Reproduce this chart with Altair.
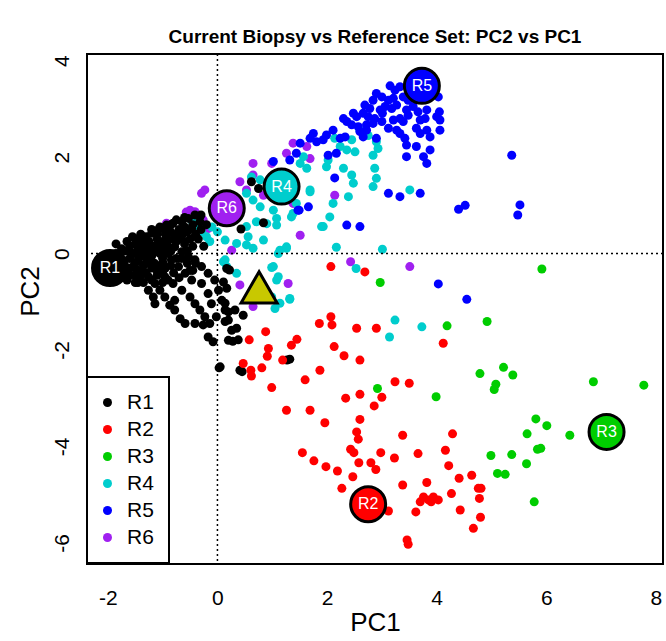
import altair as alt
import pandas as pd

groups = ["R1", "R2", "R3", "R4", "R5", "R6"]
colors = ["#000000", "#FF0000", "#00CD00", "#00CDCD", "#0000FF", "#A020F0"]

r1_x = [-1.32, -1.20, -1.08, -0.93, -0.81, -0.65, -0.53, -0.41, -0.32, -0.47, -0.62, -0.78, -0.90, -1.05, -1.20, -1.35,
        -1.44, -1.51, -1.38, -1.26, -1.14, -1.05, -0.96, -0.87, -0.78, -0.68, -0.59, -0.41, -0.26, -0.17, -0.08, 0.20,
        0.26, 0.20, 0.14, 0.08, 0.02, -0.05, -0.17, -0.29, -0.41, -0.53, -0.65, -0.78, -0.90, -0.99, -1.11, -0.96,
        -0.81, -0.65, -0.50, -0.41, -0.32, -0.23, -0.14, -0.47, -0.59, -0.71, -0.84, -0.29, -0.17, -0.11, -0.02, -1.17,
        -1.14, -1.26, -0.78,
        -1.80, -1.70, -1.60, -1.50, -1.40, -1.60, -1.70, -1.50, -1.30, -1.20, -1.10, -1.00, -1.20, -1.00, -1.30, -1.45,
        -1.10, -0.95, -0.85, -0.70, -0.60, -0.75, -0.60, -0.50, -0.40, -0.30, -0.20, -0.65, -0.55, -0.45, -0.85, -1.00,
        -1.35, -1.50, -1.65, -1.75, -1.85, -1.60, -1.40, -1.30,
        0.03, 0.45, 1.27, 1.32, 0.28, 0.62, 0.75, 0.84, 0.43, 0.17, 0.11, 0.22, 0.17, 0.14, 0.20, 0.32, 0.47, 0.14,
        0.35, 0.38, 0.41, 0.05,
        -1.75, -1.70, -1.65, -1.60, -1.55, -1.55, -1.50, -1.45, -1.45, -1.40, -1.40, -1.35, -1.35, -1.30, -1.30, -1.25,
        -1.25, -1.25, -1.20, -1.20, -1.15, -1.15, -1.10, -1.10, -1.05, -1.05, -1.05, -1.00, -1.00, -0.95, -0.95, -0.90,
        -0.90, -0.85, -0.85, -0.80, -0.80, -0.75, -0.75, -0.70, -0.70, -0.65, -0.60, -0.55, -0.55, -0.50, -0.45, -0.45,
        -0.40, -0.35, -0.30, -0.25, -1.60, -1.45, -1.80, -1.85]
r1_y = [0.28, 0.42, 0.49, 0.59, 0.63, 0.66, 0.73, 0.80, 0.66, 0.52, 0.42, 0.35, 0.28, 0.21, 0.11, 0.04,
        -0.07, -0.20, -0.34, -0.48, -0.62, -0.76, -0.90, -1.07, -1.17, -1.35, -1.45, -1.45, -1.48, -1.73, -1.83, -1.80,
        -1.59, -1.38, -1.17, -0.97, -0.76, -0.55, -0.41, -0.27, -0.13, -0.07, 0.04, 0.14, 0.00, -0.20, -0.34, -0.48,
        -0.62, -0.76, -0.90, -1.04, -1.17, -1.31, -1.45, -0.55, -0.41, -0.27, -0.13, -0.62, -0.83, -1.04, -1.31, -0.90,
        -1.04, -0.76, -0.97,
        -0.10, 0.05, 0.15, 0.20, 0.25, -0.30, -0.40, -0.45, -0.20, -0.05, 0.05, 0.10, -0.30, -0.40, 0.15, 0.30,
        0.30, 0.40, 0.45, 0.50, 0.55, 0.25, 0.20, 0.30, 0.40, 0.50, 0.60, -0.10, -0.20, -0.35, -0.25, -0.60,
        -0.60, -0.60, -0.55, -0.25, 0.00, 0.05, 0.00, -0.10,
        -2.37, -2.45, -2.21, -2.19, -1.82, 1.49, 1.35, 0.64, 0.51, -0.31, -0.59, -0.34, -0.72, -1.03, -1.21, -1.17, -1.28, -1.41,
        -1.55, -1.79, -2.42, -2.35,
        0.10, -0.15, 0.25, -0.10, 0.35, 0.00, -0.30, 0.10, -0.15, 0.40, -0.45, 0.20, -0.25, 0.35, -0.40, 0.05,
        0.25, -0.15, 0.50, -0.55, 0.15, -0.20, 0.40, -0.45, 0.00, 0.55, -0.25, 0.25, -0.10, 0.50, -0.30, 0.15,
        -0.55, 0.60, 0.05, -0.40, 0.30, 0.70, -0.10, 0.45, -0.50, 0.30, 0.75, 0.45, 0.05, -0.35, 0.60, 0.15,
        -0.20, 0.30, 0.80, 0.15, -0.45, -0.60, -0.35, 0.20]

r2_x = [2.07, 2.69, 2.07, 2.09, 1.86, 2.54, 2.90, 0.88, 0.58, 1.45, 1.35, 0.93, 0.91, 2.13, 2.31, 2.60, 1.19, 4.12,
        0.47, 0.61, 0.62, 0.81, 1.87, 1.60, 0.99, 3.24, 3.50, 2.34, 2.60, 3.00, 2.86, 1.26, 1.69, 2.60, 1.96, 2.54,
        2.57, 3.38, 4.29, 1.55, 2.43, 2.49, 2.98, 3.66, 4.16, 3.23, 1.76, 1.98, 2.19, 2.58, 2.80, 2.89, 4.22, 2.47,
        4.41, 4.64, 3.82, 3.38, 2.27, 4.76, 4.81, 4.78, 4.27, 3.76, 3.85, 3.94, 4.03, 3.70, 3.90, 3.12, 3.62, 4.43,
        4.80, 4.67, 3.46, 3.48]
r2_y = [-0.27, -0.38, -1.31, -1.48, -1.45, -1.55, -1.55, -1.62, -1.79, -1.78, -1.90, -1.97, -2.13, -1.93, -2.12, -2.21,
        -2.21, -1.86, -2.28, -2.42, -2.54, -2.37, -2.42, -2.62, -2.78, -2.66, -2.69, -3.00, -2.92, -2.98, -3.16, -3.25,
        -3.25, -3.44, -3.51, -3.70, -3.85, -3.77, -3.74, -4.13, -4.06, -4.13, -4.13, -4.15, -4.08, -4.24, -4.30, -4.42,
        -4.51, -4.34, -4.34, -4.48, -4.40, -4.63, -4.66, -4.60, -4.75, -4.80, -4.87, -4.87, -4.87, -5.08, -4.98, -5.05,
        -5.11, -5.05, -5.11, -5.15, -5.15, -5.34, -5.36, -5.32, -5.47, -5.70, -5.94, -6.03]

r3_x = [2.97, 4.19, 4.92, 2.92, 3.99, 4.79, 5.22, 5.39, 5.08, 5.05, 4.99, 5.37, 5.11, 5.25, 5.92, 6.86, 7.78, 5.81,
        6.01, 5.65, 6.43, 5.84, 5.90, 5.64, 5.78]
r3_y = [-0.60, -1.50, -1.41, -2.80, -2.97, -2.49, -2.36, -2.52, -2.71, -2.82, -4.19, -4.17, -4.56, -4.58, -0.32, -2.66,
        -2.73, -3.43, -3.57, -3.74, -3.77, -4.06, -4.04, -4.36, -5.15]

r4_x = [2.14, 2.24, 2.36, 2.45, 2.51, 2.90, 2.93, 2.84, 2.02, 1.99, 1.57, 1.63, 1.51, 2.30, 2.45, 2.48, 2.87, 2.90,
        2.84, 3.51, 2.11, 2.39, 1.69, 1.35, 1.44, 1.02, 0.78, 0.65, 0.53, 0.62, 0.78, 0.96, 1.90, 1.08,
        -0.38, -0.29, -0.20, -0.14, 0.14, 0.35, 0.53, 0.65, 0.84, 0.56, 1.14, 1.26, 0.11, 0.17, 0.35, 1.02, 1.08,
        0.99, 1.14, 1.32, 0.53, 0.71, 0.90, 1.08, 1.38, 1.93, 1.69, 2.05,
        0.14, 0.99, 1.11, 1.26, 1.11, 1.32, 1.05, 2.17, 2.53, 3.01, 3.24, 3.14, 3.73, 2.60, 2.75, -0.10, 0.00, -0.45]
r4_y = [2.39, 2.22, 2.15, 2.36, 2.11, 2.32, 2.18, 2.04, 1.94, 1.80, 2.01, 1.77, 1.87, 1.77, 1.63, 1.46, 1.77, 1.56,
        1.39, 1.32, 1.04, 1.18, 1.32, 0.76, 1.04, 0.90, 0.97, 1.11, 1.25, 1.59, 1.53, 1.46, 0.56, 0.59,
        0.56, 0.45, 0.35, 0.25, 0.28, 0.21, 0.18, 0.11, 0.28, 0.35, 0.07, 0.11, -0.17, -0.27, -0.41, -0.27, -0.55,
        -0.90, -1.03, -0.93, 0.56, 0.66, 0.62, 0.73, 0.83, 0.56, 1.28, 0.76,
        -0.13, -0.29, -0.48, 0.14, 0.00, -0.95, -1.14, 0.13, -0.31, 0.09, -1.38, -1.73, -1.52, 2.55, 2.45, 0.55, 0.45, 0.65]

r5_x = [3.15, 3.24, 3.33, 2.90, 3.00, 2.84, 3.12, 3.21, 3.39, 3.48, 4.03, 2.69, 2.78, 2.97, 3.06, 3.18, 3.27, 3.45,
        3.57, 3.66, 3.82, 4.05, 2.48, 2.54, 2.66, 2.75, 2.87, 3.01, 3.21, 3.33, 3.48, 2.30, 2.36, 2.45, 2.57, 2.72,
        2.84, 3.00, 3.39, 3.70, 3.79, 4.00, 4.06, 2.60, 2.72, 3.12, 3.27, 3.63, 3.82, 4.06, 2.11, 1.99, 1.93, 1.75,
        1.69, 1.81, 2.24, 2.33, 2.66, 2.90, 3.33, 3.42, 3.70, 3.88, 3.45, 3.63, 3.88, 3.76, 3.82, 3.45, 2.17, 2.02,
        1.51, 1.44, 1.32, 1.02, 2.14, 3.12, 3.33, 3.70, 1.49,
        5.37, 5.52, 5.48, 4.40, 4.52, 4.55, 4.03, 1.47, 1.66, 2.36, 2.60]
r5_y = [3.48, 3.39, 3.46, 3.32, 3.25, 3.18, 3.18, 3.22, 3.25, 3.18, 3.25, 3.08, 3.01, 2.98, 3.05, 3.01, 3.08, 2.98,
        3.05, 2.94, 2.98, 2.94, 2.91, 2.84, 2.91, 2.84, 2.80, 2.91, 2.77, 2.80, 2.87, 2.80, 2.74, 2.67, 2.63, 2.67,
        2.70, 2.74, 2.74, 2.77, 2.80, 2.84, 2.77, 2.53, 2.56, 2.60, 2.56, 2.60, 2.56, 2.56, 2.56, 2.46, 2.36, 2.49,
        2.39, 2.32, 2.39, 2.42, 2.42, 2.39, 2.49, 2.39, 2.49, 2.42, 2.25, 2.22, 2.15, 2.01, 1.87, 2.01, 2.08, 2.04,
        2.29, 2.08, 1.94, 1.91, 1.57, 1.25, 1.18, 1.25, 0.90,
        2.04, 1.01, 0.80, 0.92, 1.00, -0.95, -0.63, 0.90, 0.97, 0.59, 0.56]

r6_x = [-0.90, -0.50, -0.41, -0.35, -0.26, -0.17, 0.26, 0.41, 0.65, 1.29, 1.51, 0.41, 0.65, 0.99, 1.26, 1.38,
        -0.23, 1.38, 1.63, 1.69, 0.65, 0.53, 0.84, 2.14, 2.43, 3.51, -0.93, -0.29, -0.57]
r6_y = [0.59, 0.90, 0.87, 0.80, 0.70, 0.52, 0.07, -0.65, -1.10, -0.62, 0.38, 1.49, 1.63, 1.87, 2.08, 1.04,
        1.32, 2.29, 2.22, 1.97, 1.87, 1.32, 1.21, 1.21, -0.17, -0.27, 0.63, 1.25, 0.86]

# group reference centres
centre_x = [-1.96, 2.75, 7.10, 1.17, 3.73, 0.17]
centre_y = [-0.30, -5.20, -3.70, 1.39, 3.48, 0.94]

# current biopsy
biopsy_x = [0.76]
biopsy_y = [-0.70]

x_ticks = [-2, 0, 2, 4, 6, 8]
y_ticks = [-6, -4, -2, 0, 2, 4]
x_domain = [-2.38, 8.13]
y_domain = [-6.44, 4.14]

FONT = "Liberation Sans"

draw_order = [("R6", r6_x, r6_y), ("R4", r4_x, r4_y), ("R5", r5_x, r5_y),
              ("R1", r1_x, r1_y), ("R2", r2_x, r2_y), ("R3", r3_x, r3_y)]
rows = []
for g, xs_, ys_ in draw_order:
    for a, b in zip(xs_, ys_):
        rows.append({"PC1": a, "PC2": b, "grp": g})
pts = pd.DataFrame(rows)
cent = pd.DataFrame({"PC1": centre_x, "PC2": centre_y, "grp": groups})
bio = pd.DataFrame({"PC1": biopsy_x, "PC2": biopsy_y})
zero = pd.DataFrame({"v": [0]})

xs = alt.Scale(domain=x_domain, nice=False, zero=False)
ys = alt.Scale(domain=y_domain, nice=False, zero=False)

x_axis = alt.Axis(values=x_ticks, ticks=False, tickSize=0, domain=False, grid=False,
                  labelExpr="'' + datum.value",
                  labelFontSize=21, labelFont=FONT, labelColor="black", labelPadding=34,
                  labelBaseline="middle", labelFlush=False, labelOverlap=False,
                  title="PC1", titleFont=FONT, titleFontSize=26, titleFontWeight="normal",
                  titleColor="black", titleX=288, titleY=58, titleBaseline="middle", titleAlign="center")
y_axis = alt.Axis(values=y_ticks, ticks=False, tickSize=0, domain=False, grid=False,
                  labelExpr="'' + datum.value",
                  labelFontSize=21, labelFont=FONT, labelColor="black", labelPadding=25,
                  labelAngle=270, labelAlign="center", labelBaseline="middle",
                  labelFlush=False, labelOverlap=False,
                  title="PC2", titleFont=FONT, titleFontSize=26, titleFontWeight="normal",
                  titleColor="black", titleAngle=270, titleX=-57, titleY=237,
                  titleBaseline="middle", titleAlign="center")

color_scale = alt.Scale(domain=groups, range=colors)

points = alt.Chart(pts).mark_circle(size=81, opacity=1).encode(
    x=alt.X("PC1:Q", scale=xs, axis=x_axis),
    y=alt.Y("PC2:Q", scale=ys, axis=y_axis),
    color=alt.Color("grp:N", scale=color_scale,
                    legend=alt.Legend(title=None, orient="none", legendX=0, legendY=323,
                                      padding=15, rowPadding=5.0, labelFontSize=21, labelFont=FONT,
                                      labelColor="black", labelOffset=9, symbolOffset=-5, symbolSize=81,
                                      symbolType="circle", symbolStrokeWidth=0, symbolOpacity=1,
                                      strokeColor="black", fillColor="white")),
)

vline = alt.Chart(zero).mark_rule(color="black", strokeWidth=1.5, strokeDash=[2, 3]).encode(
    x=alt.X("v:Q", scale=xs))
hline = alt.Chart(zero).mark_rule(color="black", strokeWidth=1.5, strokeDash=[2, 3]).encode(
    y=alt.Y("v:Q", scale=ys))

centres = alt.Chart(cent).mark_circle(size=1225, opacity=1, stroke="black", strokeWidth=3).encode(
    x=alt.X("PC1:Q", scale=xs),
    y=alt.Y("PC2:Q", scale=ys),
    fill=alt.Fill("grp:N", scale=alt.Scale(domain=groups, range=colors), legend=None),
)
labels = alt.Chart(cent).mark_text(color="white", fontSize=16, font=FONT, align="center",
                                   baseline="middle").encode(
    x=alt.X("PC1:Q", scale=xs),
    y=alt.Y("PC2:Q", scale=ys),
    text="grp:N",
)
biopsy = alt.Chart(bio).mark_point(shape="triangle-up", size=1300, filled=True, fill="#C8C800",
                                   stroke="black", strokeWidth=3, opacity=1).encode(
    x=alt.X("PC1:Q", scale=xs),
    y=alt.Y("PC2:Q", scale=ys),
)

chart = alt.layer(points, vline, hline, biopsy, centres, labels).properties(
    width=576, height=510,
    title=alt.TitleParams("Current Biopsy vs Reference Set: PC2 vs PC1", font=FONT, fontSize=19,
                          fontWeight="bold", color="black", anchor="middle", offset=6),
    autosize=alt.AutoSizeParams(type="none"),
    padding={"left": 87, "top": 54, "right": 3, "bottom": 77},
    background="white",
).configure_view(stroke="black", strokeWidth=2).configure_legend(strokeWidth=2)

chart.save("out.html", embed_options={"renderer": "svg", "actions": False})
